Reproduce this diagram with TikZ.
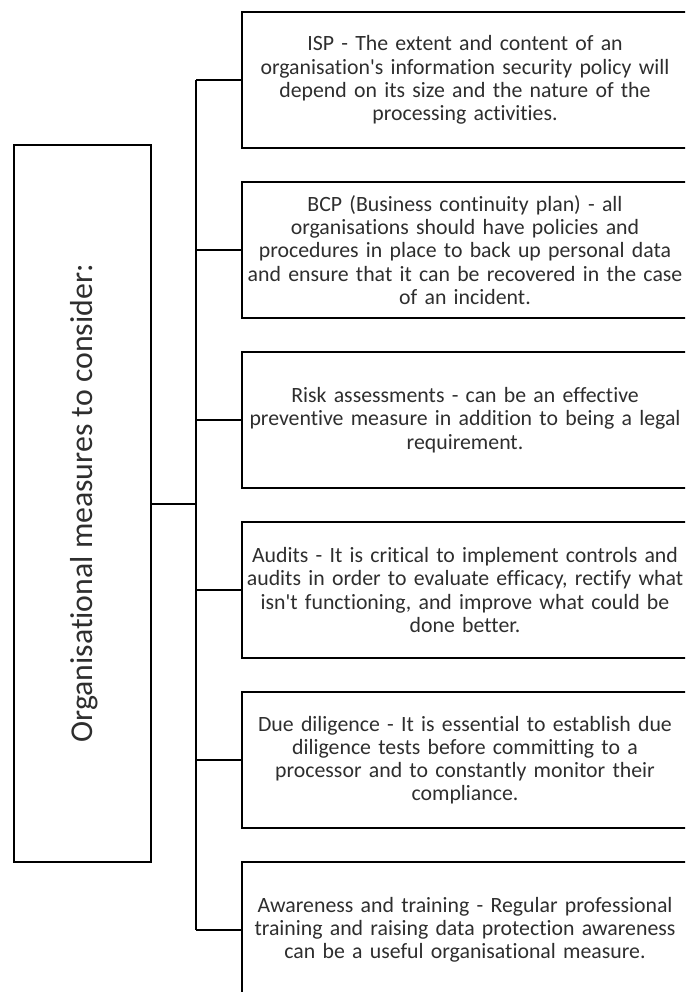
\documentclass[tikz,border=0pt]{standalone}
\usepackage{fontspec}
\setmainfont{Carlito}[Ligatures=NoCommon]
\begin{document}
\begin{tikzpicture}[x=1pt,y=-1pt,
  frame/.style={draw=black,line width=2pt,rectangle,inner sep=0pt},
  measurebox/.style={frame,anchor=north west,minimum width=446pt,minimum height=136pt,
    text width=446pt,align=center,text=black!82,
    font=\fontsize{21.8}{23.2}\selectfont},
  titlebox/.style={frame,minimum width=137pt,minimum height=717pt},
  link/.style={draw=black,line width=2pt}]
\useasboundingbox (0,0) rectangle (685,992);
\clip (0,0) rectangle (685,992);

% heading box on the left
\node[titlebox] (title) at (82.5,503.5) {};
\node[rotate=90,text=black!82,font=\fontsize{31.8}{36}\selectfont] (titletext) at (84,503.5)
  {Organisational measures to consider:};

% the six measures
\node[measurebox] (isp) at (241,11)
  {ISP - The extent and content of an\\organisation\textquotesingle s information security policy will\\depend on its size and the nature of the\\processing activities.};
\node[measurebox] (bcp) at (241,181)
  {BCP (Business continuity plan) - all\\organisations should have policies and\\procedures in place to back up personal data\\and ensure that it can be recovered in the case\\of an incident.};
\node[measurebox] (risk) at (241,351)
  {Risk assessments - can be an effective\\preventive measure in addition to being a legal\\requirement.};
\node[measurebox] (audit) at (241,521)
  {Audits - It is critical to implement controls and\\audits in order to evaluate efficacy, rectify what\\isn\textquotesingle t functioning, and improve what could be\\done better.};
\node[measurebox] (due) at (241,691)
  {Due diligence - It is essential to establish due\\diligence tests before committing to a\\processor and to constantly monitor their\\compliance.};
\node[measurebox] (aware) at (241,861)
  {Awareness and training - Regular professional\\training and raising data protection awareness\\can be a useful organisational measure.};

% bracket connector
\coordinate (trunk) at (196,503.5);
\draw[link] (title.east) -- (trunk);
\draw[link] (trunk |- isp.west) -- (trunk |- aware.west);
\foreach \b in {isp,bcp,risk,audit,due,aware}
  \draw[link] (trunk |- \b.west) -- (\b.west);
\end{tikzpicture}
\end{document}
